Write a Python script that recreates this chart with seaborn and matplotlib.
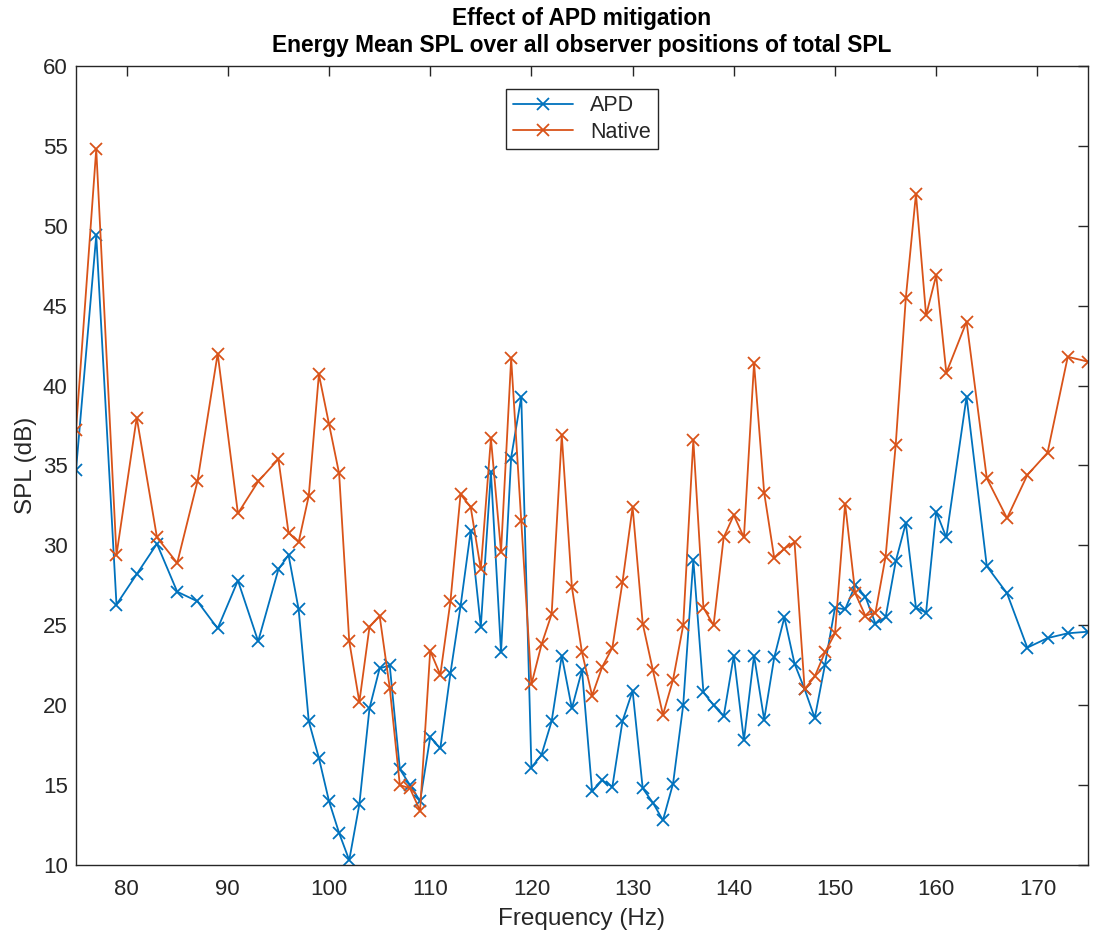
import numpy as np
import pandas as pd
import matplotlib
matplotlib.use('Agg')
import matplotlib.pyplot as plt
import seaborn as sns

# frequencies (Hz)
freq = [75, 77, 79, 81, 83, 85, 87, 89, 91, 93, 95,
        96, 97, 98, 99, 100, 101, 102, 103, 104, 105, 106, 107, 108, 109,
        110, 111, 112, 113, 114, 115, 116, 117, 118, 119, 120, 121, 122,
        123, 124, 125, 126, 127, 128, 129, 130, 131, 132, 133, 134, 135,
        136, 137, 138, 139, 140, 141, 142, 143, 144, 145, 146, 147, 148,
        149, 150, 151, 152, 153, 154, 155, 156, 157, 158, 159, 160, 161,
        163, 165, 167, 169, 171, 173, 175]

apd = [34.7, 49.4, 26.3, 28.2, 30.1, 27.1, 26.5, 24.8, 27.8, 24.0, 28.5,
       29.4, 26.0, 19.0, 16.7, 14.0, 12.0, 10.3, 13.8, 19.8, 22.3, 22.5, 16.0, 15.0, 14.0,
       18.0, 17.3, 22.0, 26.2, 30.9, 24.9, 34.6, 23.3, 35.5, 39.3, 16.1, 16.9, 19.0,
       23.1, 19.8, 22.2, 14.6, 15.3, 14.9, 19.0, 20.9, 14.8, 13.9, 12.8, 15.1, 20.0,
       29.1, 20.8, 20.0, 19.3, 23.1, 17.8, 23.1, 19.1, 23.0, 25.5, 22.6, 21.0, 19.2,
       22.5, 26.1, 26.0, 27.5, 26.8, 25.1, 25.5, 29.0, 31.4, 26.1, 25.8, 32.1, 30.5,
       39.3, 28.7, 27.0, 23.6, 24.2, 24.5, 24.6]

native = [37.2, 54.8, 29.4, 38.0, 30.5, 28.9, 34.0, 42.0, 32.0, 34.0, 35.4,
          30.8, 30.2, 33.1, 40.7, 37.6, 34.5, 24.0, 20.2, 24.9, 25.6, 21.1, 15.0, 14.8, 13.4,
          23.4, 21.9, 26.5, 33.2, 32.4, 28.5, 36.7, 29.6, 41.7, 31.5, 21.3, 23.8, 25.7,
          36.9, 27.4, 23.3, 20.6, 22.4, 23.6, 27.7, 32.4, 25.1, 22.2, 19.4, 21.6, 25.0,
          36.6, 26.1, 25.0, 30.5, 31.9, 30.5, 41.4, 33.3, 29.2, 29.8, 30.2, 21.0, 21.8,
          23.3, 24.5, 32.6, 27.0, 25.6, 25.8, 29.3, 36.3, 45.5, 52.0, 44.4, 46.9, 40.8,
          44.0, 34.2, 31.7, 34.4, 35.8, 41.8, 41.5]

series = {'APD': (apd, '#0072BD'), 'Native': (native, '#D95319')}

sns.set_style('white')
plt.rcParams['font.family'] = ['Liberation Sans', 'DejaVu Sans']

fig = plt.figure(figsize=(10.94, 9.34), dpi=100)
ax = fig.add_axes([76 / 1094, 1 - 865 / 934, (1088 - 76) / 1094, (865 - 66) / 934])

for name, (vals, col) in series.items():
    sns.lineplot(x=freq, y=vals, color=col, label=name, ax=ax, sort=False,
                 marker='x', markersize=8, mec=col, mew=1.3, linewidth=1.3)

ax.set_xlim(75, 175)
ax.set_ylim(10, 60)
ax.set_xticks([80, 90, 100, 110, 120, 130, 140, 150, 160, 170])
ax.set_yticks([10, 15, 20, 25, 30, 35, 40, 45, 50, 55, 60])
ax.tick_params(direction='in', length=7, width=1, top=True, right=True,
               labelsize=16, colors='#262626')
ax.tick_params(axis='x', pad=10)
ax.tick_params(axis='y', pad=6)
for s in ax.spines.values():
    s.set_color('#262626')
    s.set_linewidth(1)

ax.set_xlabel('Frequency (Hz)', fontsize=17.5, color='#262626', labelpad=6)
ax.set_ylabel('SPL (dB)', fontsize=17.5, color='#262626', labelpad=4)
ax.set_title('Effect of APD mitigation\nEnergy Mean SPL over all observer positions of total SPL',
             fontsize=16.4, fontweight='bold', linespacing=1.25, pad=10, color='black')

leg = ax.legend(loc='upper center', bbox_to_anchor=(0.5, 0.985), fontsize=15.5,
                fancybox=False, framealpha=1, edgecolor='#262626',
                handlelength=2.8, borderpad=0.3, labelspacing=0.25)
leg.get_frame().set_linewidth(1)

fig.savefig('out.png', dpi=100)
